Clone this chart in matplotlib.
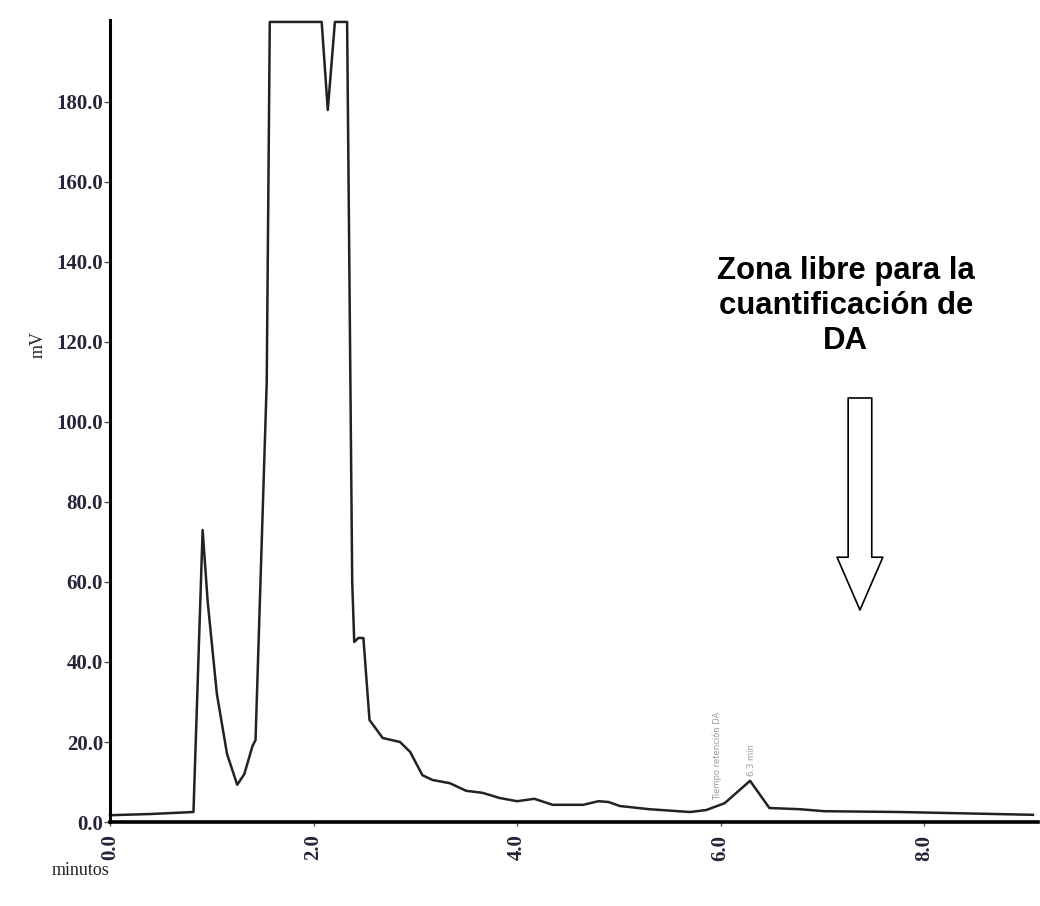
"""Cromatograma HPLC - zona libre para la cuantificacion de DA."""

import matplotlib
matplotlib.use('Agg')
import matplotlib.pyplot as plt
import numpy as np

tiempo = [0.00, 0.40, 0.82, 0.91, 0.96, 1.05, 1.15, 1.25, 1.32, 1.40, 1.43,
          1.54, 1.57, 2.08, 2.14, 2.21, 2.33, 2.38, 2.40, 2.44, 2.49, 2.55,
          2.68, 2.85, 2.95, 3.07, 3.17, 3.34, 3.50, 3.66, 3.83, 4.00, 4.17,
          4.35, 4.65, 4.80, 4.90, 5.01, 5.30, 5.70, 5.86, 6.04, 6.29, 6.48,
          6.78, 7.02, 7.76, 9.07]
senal = [1.7, 2.0, 2.5, 73.0, 55.0, 32.0, 17.0, 9.3, 12.0, 19.0, 20.5,
         110.0, 200.0, 200.0, 178.0, 200.0, 200.0, 60.0, 45.0, 46.0, 46.0, 25.5,
         21.0, 20.0, 17.5, 11.7, 10.5, 9.7, 7.8, 7.3, 6.0, 5.2, 5.8,
         4.3, 4.3, 5.2, 5.0, 4.0, 3.2, 2.5, 3.0, 4.7, 10.3, 3.5,
         3.2, 2.7, 2.5, 1.8]

yticks = [0, 20, 40, 60, 80, 100, 120, 140, 160, 180]
xticks = [0, 2, 4, 6, 8]

fig = plt.figure(figsize=(10.4, 9.06), dpi=100, facecolor="white")
ax = fig.add_axes([0.1058, 0.0927, 0.8923, 0.8853])

ax.plot(tiempo, senal, color="#222222", linewidth=1.8, clip_on=False)

ax.set_xlim(0, 9.12)
ax.set_ylim(0, 200.5)

serif = "Liberation Serif"
ax.set_yticks(yticks)
ax.set_yticklabels([f"{v:.1f}" for v in yticks], family=serif,
                   fontsize=15, fontweight="bold", color="#2a2238")
ax.set_xticks(xticks)
ax.set_xticklabels([f"{v:.1f}" for v in xticks], family=serif,
                   fontsize=15, fontweight="bold", color="#2a2238",
                   rotation=90)
ax.tick_params(axis="y", length=4, width=1, pad=1, color="#555")
ax.tick_params(axis="x", length=3, width=1, pad=6, color="#555")

for s in ["top", "right"]:
    ax.spines[s].set_visible(False)
ax.spines["left"].set_linewidth(2.2)
ax.spines["bottom"].set_linewidth(2.6)

fig.text(0.037, 0.62, "mV", rotation=90, family=serif, fontsize=13,
         ha="center", va="center", color="#222")
fig.text(0.077, 0.039, "minutos", family=serif, fontsize=13,
         ha="center", va="center", color="#222")

# etiquetas de pico (muy tenues en el original)
ax.text(5.97, 5.5, "Tiempo retención DA", rotation=90, fontsize=6,
        color="#9a9a9a", ha="center", va="bottom")
ax.text(6.30, 11.5, "6.3 min", rotation=90, fontsize=6,
        color="#9a9a9a", ha="center", va="bottom")

ax.text(7.23, 129, "Zona libre para la\ncuantificación de\nDA",
        family="Liberation Sans", fontsize=22.4, fontweight="bold",
        ha="center", va="center", linespacing=1.2, color="black")

ax.annotate("", xy=(7.37, 53), xytext=(7.37, 106),
            arrowprops=dict(width=17, headwidth=33, headlength=38,
                            shrink=0, facecolor="white", edgecolor="black",
                            linewidth=1.2))

fig.savefig("out.png", dpi=100, facecolor="white")
